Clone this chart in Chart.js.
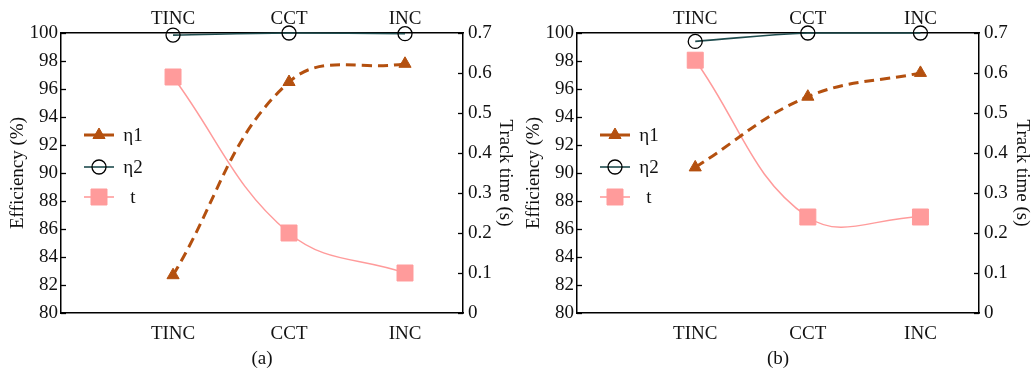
<!DOCTYPE html>
<html><head><meta charset="utf-8">
<script src="https://cdn.jsdelivr.net/npm/chart.js@4.4.0/dist/chart.umd.min.js"></script>
<style>
html,body{margin:0;padding:0;background:#fff;}
#wrap{position:relative;width:1033px;height:372px;overflow:hidden;}
.c{position:absolute;top:0;height:372px;}
</style></head><body>
<div id="wrap">
<div class="c" style="left:0;width:516px"><canvas id="ca" width="516" height="372"></canvas></div>
<div class="c" style="left:516px;width:517px"><canvas id="cb" width="517" height="372"></canvas></div>
</div>
<script>
// ---- data ----
const categories = ['TINC', 'CCT', 'INC'];
const effTicks = [80, 82, 84, 86, 88, 90, 92, 94, 96, 98, 100];
const timeTicks = [0, 0.1, 0.2, 0.3, 0.4, 0.5, 0.6, 0.7];
const seriesNames = ['η1', 'η2', 't'];
const captions = ['(a)', '(b)'];

const eta1A = [82.7, 96.5, 97.8];
const eta2A = [99.85, 100, 99.95];
const tA = [0.59, 0.20, 0.10];

const eta1B = [90.4, 95.45, 97.15];
const eta2B = [99.4, 100, 100];
const tB = [0.632, 0.24, 0.24];

// ---- styling ----
const FONT = '"Liberation Serif", "Times New Roman", serif';
const BROWN = '#b4500f';
const TEAL = '#1f4c4e';
const PINK = '#ff9b9b';

function toPts(arr) { return arr.map((v, i) => ({ x: i + 1, y: v })); }

function drawMarker(ctx, style, x, y, r, fill, stroke, bw) {
  ctx.beginPath();
  if (style === 'triangle') {
    for (let k = 0; k < 3; k++) {
      const ang = k * 2 * Math.PI / 3;
      const px = x + Math.sin(ang) * r, py = y - Math.cos(ang) * r;
      if (k === 0) ctx.moveTo(px, py); else ctx.lineTo(px, py);
    }
    ctx.closePath();
  } else if (style === 'circle') {
    ctx.arc(x, y, r, 0, Math.PI * 2);
  } else {
    const s = r * Math.SQRT1_2;
    ctx.rect(x - s, y - s, 2 * s, 2 * s);
  }
  if (fill && fill !== 'transparent') { ctx.fillStyle = fill; ctx.fill(); }
  ctx.lineWidth = bw; ctx.strokeStyle = stroke; ctx.stroke();
}

const innerLegend = {
  id: 'innerLegend',
  afterDraw(chart) {
    const { ctx, chartArea: a } = chart;
    const rows = [102, 134, 164];
    chart.data.datasets.forEach((ds, i) => {
      const y = a.top + rows[i];
      const x0 = a.left + 23, x1 = a.left + 53, xm = (x0 + x1) / 2;
      ctx.save();
      ctx.setLineDash([]);
      ctx.strokeStyle = ds.borderColor;
      ctx.lineWidth = ds.legendLineWidth;
      ctx.beginPath(); ctx.moveTo(x0, y); ctx.lineTo(x1, y); ctx.stroke();
      drawMarker(ctx, ds.pointStyle, xm, y, ds.pointRadius, ds.pointBackgroundColor, ds.pointBorderColor, ds.pointBorderWidth);
      ctx.font = '19px ' + FONT;
      ctx.fillStyle = '#111';
      ctx.textAlign = 'center';
      ctx.textBaseline = 'middle';
      ctx.fillText(ds.label, a.left + 72, y + 1);
      ctx.restore();
    });
  }
};

const innerTicks = {
  id: 'innerTicks',
  afterDraw(chart) {
    const { ctx, chartArea: a } = chart;
    ctx.save();
    ctx.strokeStyle = '#000';
    ctx.lineWidth = 1.3;
    ['y', 'y1'].forEach(id => {
      const sc = chart.scales[id];
      sc.ticks.forEach(t => {
        const py = Math.round(sc.getPixelForValue(t.value)) + 0.5;
        ctx.beginPath();
        if (id === 'y') { ctx.moveTo(a.left, py); ctx.lineTo(a.left + 5, py); }
        else { ctx.moveTo(a.right - 5, py); ctx.lineTo(a.right, py); }
        ctx.stroke();
      });
    });
    ctx.restore();
  }
};

function makeChart(id, eta1, eta2, tt, xMin, xMax, caption, canvasW) {
  const tickFont = { family: FONT, size: 19 };
  const border = { display: true, color: '#000', width: 1.5 };
  const grid = { display: true, drawOnChartArea: false, drawTicks: false };
  const catTicks = (axis) => { axis.ticks = categories.map((c, i) => ({ value: i + 1 })); };
  return new Chart(document.getElementById(id), {
    type: 'line',
    data: {
      datasets: [
        {
          label: seriesNames[0], data: toPts(eta1), yAxisID: 'y', xAxisID: 'x',
          borderColor: BROWN, borderWidth: 3, borderDash: [10, 6], tension: 0.4,
          pointStyle: 'triangle', pointRadius: 7, pointBackgroundColor: BROWN,
          pointBorderColor: BROWN, pointBorderWidth: 1, legendLineWidth: 3, clip: false
        },
        {
          label: seriesNames[1], data: toPts(eta2), yAxisID: 'y', xAxisID: 'x',
          borderColor: TEAL, borderWidth: 1.6, tension: 0.4,
          pointStyle: 'circle', pointRadius: 7, pointBackgroundColor: 'transparent',
          pointBorderColor: '#000', pointBorderWidth: 1.3, legendLineWidth: 1.6, clip: false
        },
        {
          label: seriesNames[2], data: toPts(tt), yAxisID: 'y1', xAxisID: 'x',
          borderColor: PINK, borderWidth: 1.5, tension: 0.4,
          pointStyle: 'rect', pointRadius: 11.3, pointBackgroundColor: PINK,
          pointBorderColor: PINK, pointBorderWidth: 1, legendLineWidth: 1.6, clip: false
        }
      ]
    },
    options: {
      responsive: false,
      animation: false,
      devicePixelRatio: 1,
      layout: { padding: 0 },
      plugins: { legend: { display: false }, tooltip: { enabled: false } },
      scales: {
        x: {
          type: 'linear', position: 'bottom', min: xMin, max: xMax,
          afterBuildTicks: catTicks,
          afterFit: s => { s.height = 59; },
          grid, border,
          ticks: { font: tickFont, color: '#111', padding: 10, maxRotation: 0, autoSkip: false,
                   callback: v => categories[v - 1] },
          title: { display: true, text: caption, font: tickFont, color: '#111', padding: { top: 0, bottom: 2 } }
        },
        x2: {
          type: 'linear', position: 'top', min: xMin, max: xMax,
          afterBuildTicks: catTicks,
          afterFit: s => { s.height = 33; },
          grid, border,
          ticks: { font: tickFont, color: '#111', padding: 3, maxRotation: 0, autoSkip: false,
                   callback: v => categories[v - 1] }
        },
        y: {
          type: 'linear', position: 'left', min: 80, max: 100,
          afterBuildTicks: axis => { axis.ticks = effTicks.map(v => ({ value: v })); },
          afterFit: s => { s.width = 61; },
          grid, border,
          ticks: { font: tickFont, color: '#111', padding: 3, callback: v => String(v) },
          title: { display: true, text: 'Efficiency (%)', font: tickFont, color: '#111', padding: { top: 7, bottom: 0 } }
        },
        y1: {
          type: 'linear', position: 'right', min: 0, max: 0.7,
          afterBuildTicks: axis => { axis.ticks = timeTicks.map(v => ({ value: v })); },
          afterFit: s => { s.width = canvasW - 463; },
          grid, border,
          ticks: { font: tickFont, color: '#111', padding: 5, callback: v => v === 0 ? '0' : v.toFixed(1) },
          title: { display: true, text: 'Track time (s)', font: tickFont, color: '#111', padding: { top: 0, bottom: 0 } }
        }
      }
    },
    plugins: [innerTicks, innerLegend]
  });
}

makeChart('ca', eta1A, eta2A, tA, 0.034, 3.5, captions[0], 516);
makeChart('cb', eta1B, eta2B, tB, -0.05, 3.52, captions[1], 517);
</script>
</body></html>
